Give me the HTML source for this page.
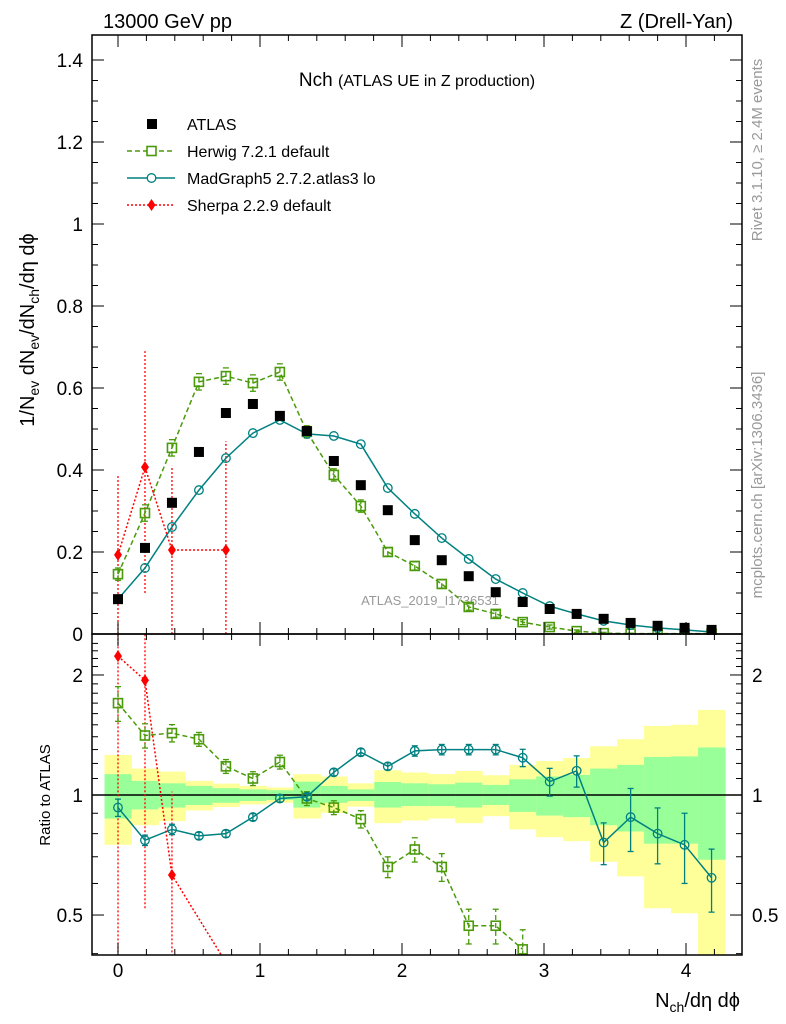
<!DOCTYPE html>
<html><head><meta charset="utf-8"><style>
html,body{margin:0;background:#fff;width:786px;height:1024px;overflow:hidden;}
svg{display:block;font-family:"Liberation Sans",sans-serif;}
</style></head><body>
<svg id="chart" width="786" height="1024" viewBox="0 0 786 1024" xmlns="http://www.w3.org/2000/svg">
<text x="103" y="28" font-size="20">13000 GeV pp</text>
<text x="733" y="28" font-size="20" text-anchor="end">Z (Drell-Yan)</text>
<text x="417" y="86" font-size="19" text-anchor="middle">Nch <tspan font-size="16">(ATLAS UE in Z production)</tspan></text>
<text transform="translate(762,150) rotate(-90)" font-size="15" fill="#999" text-anchor="middle">Rivet 3.1.10, ≥ 2.4M events</text>
<text transform="translate(762,485) rotate(-90)" font-size="15" fill="#999" text-anchor="middle">mcplots.cern.ch [arXiv:1306.3436]</text>
<text x="430" y="605" font-size="13" fill="#999" text-anchor="middle">ATLAS_2019_I1736531</text>
<text transform="translate(34,330) rotate(-90)" font-size="20" text-anchor="middle">1/N<tspan font-size="14" dy="5">ev</tspan><tspan dy="-5"> dN</tspan><tspan font-size="14" dy="5">ev</tspan><tspan dy="-5">/dN</tspan><tspan font-size="14" dy="5">ch</tspan><tspan dy="-5">/dη dϕ</tspan></text>
<text transform="translate(50,795) rotate(-90)" font-size="15" text-anchor="middle">Ratio to ATLAS</text>
<text x="740" y="1007" font-size="20" text-anchor="end">N<tspan font-size="14" dy="5">ch</tspan><tspan dy="-5">/dη dϕ</tspan></text>
<g id="bands"></g><g id="main"></g><g id="ratio"></g><g id="frames"></g><g id="legend"></g>
</svg>
<script>
const xs = [0,0.19,0.38,0.57,0.76,0.95,1.14,1.33,1.52,1.71,1.9,2.09,2.28,2.47,2.66,2.85,3.04,3.23,3.42,3.61,3.8,3.99,4.18];
const atlas = [0.085,0.21,0.32,0.444,0.539,0.561,0.532,0.495,0.422,0.363,0.302,0.229,0.18,0.141,0.102,0.078,0.061,0.049,0.037,0.027,0.02,0.015,0.01];
const herwig = [0.146,0.295,0.454,0.615,0.629,0.612,0.639,0.493,0.388,0.312,0.2,0.166,0.122,0.066,0.049,0.029,0.017,0.007,0.002,0.001,0.001,0.001,0.001];
const herwigErr = [0.015,0.02,0.02,0.02,0.02,0.02,0.02,0.015,0.015,0.015,0.01,0.01,0.01,0.008,0.008,0.006,0.005,0.003,0.002,0.001,0.001,0.001,0.001];
const madgraph = [0.085,0.161,0.261,0.351,0.429,0.49,0.522,0.488,0.483,0.463,0.356,0.293,0.234,0.183,0.134,0.1,0.068,0.049,0.032,0.022,0.015,0.01,0.005];
const sherpaX = [0,0.19,0.38,0.76];
const sherpa = [0.193,0.407,0.205,0.205];
const sherpaLo = [0,0.1,0,0];
const sherpaHi = [0.39,0.69,0.41,0.47];
const rHerwig = [1.70,1.41,1.43,1.38,1.18,1.10,1.21,0.98,0.93,0.87,0.66,0.73,0.66,0.47,0.47,0.41];
const rHerwigErr = [0.1,0.07,0.05,0.04,0.04,0.04,0.04,0.04,0.04,0.05,0.06,0.07,0.08,0.1,0.1,0.12];
const rMad = [0.93,0.77,0.82,0.79,0.80,0.88,0.98,0.99,1.14,1.28,1.18,1.29,1.30,1.30,1.30,1.24,1.08,1.15,0.76,0.88,0.80,0.75,0.62];
const rMadErr = [0.05,0.03,0.03,0.02,0.02,0.02,0.02,0.02,0.02,0.02,0.02,0.03,0.03,0.03,0.03,0.05,0.08,0.09,0.12,0.18,0.16,0.2,0.18];
const rSherpaX = [0,0.19,0.38,0.76];
const rSherpa = [2.23,1.94,0.63,0.38];
const yelHi = [1.26,1.165,1.145,1.085,1.068,1.054,1.044,1.128,1.113,1.07,1.154,1.139,1.128,1.149,1.121,1.19,1.217,1.238,1.325,1.38,1.49,1.50,1.635];
const yelLo = [0.75,0.84,0.86,0.915,0.933,0.947,0.956,0.873,0.902,0.935,0.85,0.863,0.873,0.85,0.885,0.82,0.784,0.766,0.68,0.625,0.52,0.505,0.3];
const grnHi = [1.128,1.085,1.07,1.054,1.04,1.033,1.028,1.08,1.054,1.033,1.078,1.07,1.064,1.074,1.06,1.095,1.113,1.123,1.165,1.19,1.246,1.25,1.316];
const grnLo = [0.873,0.92,0.93,0.944,0.956,0.966,0.972,0.93,0.956,0.966,0.93,0.938,0.938,0.93,0.944,0.907,0.888,0.88,0.84,0.81,0.755,0.755,0.688];
const yTicksMain = [0,0.2,0.4,0.6,0.8,1,1.2,1.4];
const yTickLabelsMain = ["0","0.2","0.4","0.6","0.8","1","1.2","1.4"];
const xTicks = [0,1,2,3,4];
const rTicks = [0.5,1,2];

const NS="http://www.w3.org/2000/svg";
const L=92,R=742,T=35,MB=634,RB=955;
const X=v=>118+v*142;
const Y=v=>MB-v*410;
const RY=v=>795-Math.log10(v)*398.7;
function mk(parent,tag,attrs){const e=document.createElementNS(NS,tag);for(const k in attrs)e.setAttribute(k,attrs[k]);document.getElementById(parent).appendChild(e);return e;}
const hw=0.095*142;
xs.forEach((x,i)=>{
  let lo=Math.min(RY(yelLo[i]),RB), hi=Math.max(RY(yelHi[i]),MB);
  let e=mk('bands','rect',{x:X(x)-hw,y:hi,width:2*hw+0.5,height:lo-hi,fill:'#ffff99'});
  
  
  let g=mk('bands','rect',{x:X(x)-hw,y:RY(grnHi[i]),width:2*hw+0.5,height:RY(grnLo[i])-RY(grnHi[i]),fill:'#99ff99'});
  
  
});
mk('bands','line',{x1:L,x2:R,y1:RY(1),y2:RY(1),stroke:'#000','stroke-width':1.5});
const defs=mk('chart','defs',{});
defs.innerHTML='<clipPath id="cm"><rect x="92" y="35" width="650" height="600"/></clipPath><clipPath id="cr"><rect x="92" y="634" width="650" height="321"/></clipPath>';
document.getElementById('main').setAttribute('clip-path','url(#cm)');
document.getElementById('ratio').setAttribute('clip-path','url(#cr)');
function series(g,xv,yv,fy,color,dash,marker,err,errAbs){
  const pts=xv.map((x,i)=>X(x)+','+fy(yv[i])).join(' ');
  let p=mk(g,'polyline',{points:pts,fill:'none',stroke:color,'stroke-width':1.5,'stroke-dasharray':dash});
  
  
  xv.forEach((x,i)=>{
    const cx=X(x),cy=fy(yv[i]);
    if(err){let a,b;if(errAbs){a=fy(yv[i]-err[i]);b=fy(yv[i]+err[i]);}else{a=fy(yv[i]*(1-err[i]));b=fy(yv[i]*(1+err[i]));}
      mk(g,'line',{x1:cx,x2:cx,y1:a,y2:b,stroke:color,'stroke-width':1.3,'stroke-dasharray':dash});
      mk(g,'line',{x1:cx-3,x2:cx+3,y1:a,y2:a,stroke:color,'stroke-width':1.3});
      mk(g,'line',{x1:cx-3,x2:cx+3,y1:b,y2:b,stroke:color,'stroke-width':1.3});}
    let m;
    if(marker==='sq')m=mk(g,'rect',{x:cx-4.5,y:cy-4.5,width:9,height:9,fill:'none',stroke:color,'stroke-width':1.6});
    else if(marker==='ci')m=mk(g,'circle',{cx:cx,cy:cy,r:4.3,fill:'none',stroke:color,'stroke-width':1.3});
    else m=mk(g,'path',{d:`M${cx},${cy-6}L${cx+4},${cy}L${cx},${cy+6}L${cx-4},${cy}Z`,fill:color});
    
    
  });
}
sherpaX.forEach((x,i)=>{mk('main','line',{x1:X(x),x2:X(x),y1:Y(sherpaLo[i]),y2:Y(sherpaHi[i]),stroke:'red','stroke-width':1.3,'stroke-dasharray':'2,2'});});
series('main',xs,herwig,Y,'#4a9a0a','5,3','sq',herwigErr,true);
series('main',xs,madgraph,Y,'#008080','','ci',null);
series('main',sherpaX,sherpa,Y,'red','2,2','di',null);
xs.forEach((x,i)=>{let e=mk('main','rect',{x:X(x)-5,y:Y(atlas[i])-5,width:10,height:10,fill:'#000'});
  
  });
rSherpaX.slice(0,3).forEach((x,i)=>{mk('ratio','line',{x1:X(x),x2:X(x),y1:RY([0.01,0.52,0.01][i]),y2:RY([4,4,1.02][i]),stroke:'red','stroke-width':1.3,'stroke-dasharray':'2,2'});});
series('ratio',xs.slice(0,rHerwig.length),rHerwig,RY,'#4a9a0a','5,3','sq',rHerwigErr);
series('ratio',xs,rMad,RY,'#008080','','ci',rMadErr);
series('ratio',rSherpaX,rSherpa,RY,'red','2,2','di',null);
function fr(y1,y2){let r=mk('frames','rect',{x:L,y:y1,width:R-L,height:y2-y1,fill:'none',stroke:'#000','stroke-width':1.5});}
fr(T,MB);fr(MB,RB);
for(let v=-0.2;v<=4.4;v+=0.2){const x=X(v);if(x<L||x>R)continue;const maj=Math.abs(v-Math.round(v))<1e-6;const l=maj?12:6;
  [[T,T+l],[MB,MB-l],[MB,MB+l],[RB,RB-l]].forEach(a=>mk('frames','line',{x1:x,x2:x,y1:a[0],y2:a[1],stroke:'#000','stroke-width':1}));}
for(let v=0;v<=1.45;v+=0.05){const y=Y(v);const maj=Math.abs(v*5-Math.round(v*5))<1e-6;const l=maj?12:6;
  mk('frames','line',{x1:L,x2:L+l,y1:y,y2:y,stroke:'#000'});mk('frames','line',{x1:R,x2:R-l,y1:y,y2:y,stroke:'#000'});}
for(let v=0.4;v<=2.5;v+=0.1){const y=RY(v);if(y<MB||y>RB)continue;const maj=rTicks.some(t=>Math.abs(t-v)<1e-6);const l=maj?12:6;
  mk('frames','line',{x1:L,x2:L+l,y1:y,y2:y,stroke:'#000'});mk('frames','line',{x1:R,x2:R-l,y1:y,y2:y,stroke:'#000'});}
yTicksMain.forEach((v,i)=>{let t=mk('frames','text',{x:83,y:Y(v)+7,'font-size':19,'text-anchor':'end'});t.textContent=yTickLabelsMain[i];
  
  });
rTicks.forEach(v=>{[[83,'end'],[752,'start']].forEach(p=>{let t=mk('frames','text',{x:p[0],y:RY(v)+7,'font-size':19,'text-anchor':p[1]});t.textContent=String(v);
  
  });});
xTicks.forEach(v=>{let t=mk('frames','text',{x:X(v),y:977,'font-size':19,'text-anchor':'middle'});t.textContent=String(v);
  
  });
const leg=[['ATLAS','#000','','blk'],['Herwig 7.2.1 default','#4a9a0a','5,3','sq'],['MadGraph5 2.7.2.atlas3 lo','#008080','','ci'],['Sherpa 2.2.9 default','red','2,2','di']];
leg.forEach((d,i)=>{const y=124+i*27;
  if(d[3]!=='blk')mk('legend','line',{x1:127,x2:175,y1:y,y2:y,stroke:d[1],'stroke-width':1.5,'stroke-dasharray':d[2]});
  let m;
  if(d[3]==='blk')m=mk('legend','rect',{x:147,y:y-5,width:10,height:10,fill:'#000'});
  else if(d[3]==='sq')m=mk('legend','rect',{x:147,y:y-4.5,width:9,height:9,fill:'#fff',stroke:d[1],'stroke-width':1.6});
  else if(d[3]==='ci')m=mk('legend','circle',{cx:151.5,cy:y,r:4.3,fill:'#fff',stroke:d[1],'stroke-width':1.3});
  else m=mk('legend','path',{d:`M151.5,${y-6}L155.5,${y}L151.5,${y+6}L147.5,${y}Z`,fill:d[1]});
  
  
  let t=mk('legend','text',{x:187,y:y+6,'font-size':16});t.textContent=d[0];
  
  
});
</script>
</body></html>
